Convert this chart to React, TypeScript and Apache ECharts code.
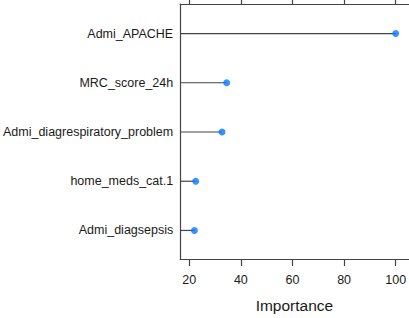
import React, { useEffect, useRef } from "react";
import * as echarts from "echarts";

const features = [
  "Admi_APACHE",
  "MRC_score_24h",
  "Admi_diagrespiratory_problem",
  "home_meds_cat.1",
  "Admi_diagsepsis",
];
const importance = [100, 34.5, 32.7, 22.5, 22.0];
const xTicks = [20, 40, 60, 80, 100];
const xMin = 16.5;
const xMax = 105;

export default function App() {
  const ref = useRef<HTMLDivElement>(null);
  useEffect(() => {
    if (!ref.current) return;
    const chart = echarts.init(ref.current, null, { renderer: "svg" });
    const positions = features.map((_, i) => i + 1);
    const data = importance.map((v, i) => [v, positions[i]]);
    const font = "'Liberation Sans', Arial, Helvetica, sans-serif";
    chart.setOption({
      animation: false,
      grid: { left: 178, top: 4, width: 232.5, height: 258.3 },
      xAxis: [
        {
          type: "value",
          min: xMin,
          max: xMax,
          position: "bottom",
          name: "Importance",
          nameLocation: "middle",
          nameGap: 38,
          nameTextStyle: { fontFamily: font, fontSize: 15.5, color: "#1a1a1a" },
          axisLine: { show: true, lineStyle: { color: "#444", width: 1.2 } },
          axisTick: { show: true, length: 7, customValues: xTicks, lineStyle: { color: "#444", width: 1.2 } },
          axisLabel: {
            show: true,
            customValues: xTicks,
            margin: 14,
            fontFamily: font,
            fontSize: 12.5,
            color: "#1a1a1a",
          },
          splitLine: { show: false },
        },
        {
          type: "value",
          min: xMin,
          max: xMax,
          position: "top",
          axisLine: { show: true, lineStyle: { color: "#444", width: 1.2 } },
          axisTick: { show: true, length: 7, customValues: xTicks, lineStyle: { color: "#444", width: 1.2 } },
          axisLabel: { show: false },
          splitLine: { show: false },
        },
      ],
      yAxis: {
        type: "value",
        inverse: true,
        min: 0.4,
        max: 5.58,
        axisLine: { show: true, lineStyle: { color: "#444", width: 1.2 } },
        axisTick: { show: false },
        axisLabel: {
          customValues: positions,
          margin: 7,
          fontFamily: font,
          fontSize: 12.5,
          color: "#1a1a1a",
          formatter: (v: number) => features[Math.round(v) - 1] ?? "",
        },
        splitLine: { show: false },
      },
      series: [
        {
          type: "custom",
          xAxisIndex: 0,
          data,
          renderItem: (params: any, api: any) => {
            const x = api.value(0);
            const y = api.value(1);
            const p0 = api.coord([xMin, y]);
            const p1 = api.coord([x, y]);
            return {
              type: "line",
              shape: { x1: p0[0], y1: p0[1], x2: p1[0], y2: p1[1] },
              style: { stroke: "#444", lineWidth: 1.2 },
            };
          },
          z: 2,
        },
        {
          type: "scatter",
          xAxisIndex: 0,
          data,
          symbol: "circle",
          symbolSize: 7,
          itemStyle: { color: "#0a78ff" },
          z: 3,
        },
      ],
    });
    return () => chart.dispose();
  }, []);
  return (
    <div
      ref={ref}
      style={{ position: "absolute", left: 0, top: 0, width: 409, height: 318, background: "#fff" }}
    />
  );
}
